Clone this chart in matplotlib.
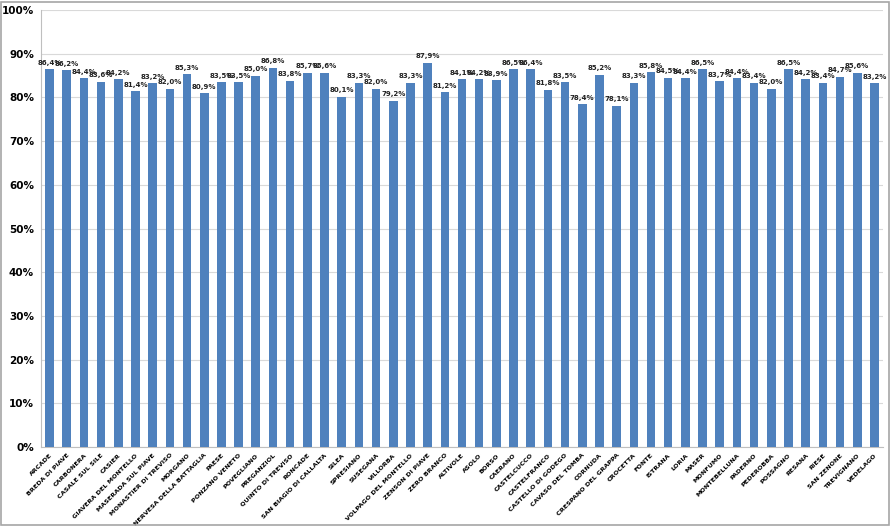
import matplotlib.pyplot as plt
from matplotlib.patches import Rectangle
from matplotlib.ticker import FuncFormatter

plt.rcParams['font.family'] = ['DejaVu Sans']

# ========== data ==========
comuni = ['ARCADE', 'BREDA DI PIAVE', 'CARBONERA', 'CASALE SUL SILE', 'CASIER',
          'GIAVERA DEL MONTELLO', 'MASERADA SUL PIAVE', 'MONASTIER DI TREVISO',
          'MORGANO', 'NERVESA DELLA BATTAGLIA', 'PAESE', 'PONZANO VENETO',
          'POVEGLIANO', 'PREGANZIOL', 'QUINTO DI TREVISO', 'RONCADE',
          'SAN BIAGIO DI CALLALTA', 'SILEA', 'SPRESIANO', 'SUSEGANA', 'VILLORBA',
          'VOLPAGO DEL MONTELLO', 'ZENSON DI PIAVE', 'ZERO BRANCO', 'ALTIVOLE',
          'ASOLO', 'BORSO', 'CAERANO', 'CASTELCUCCO', 'CASTELFRANCO',
          'CASTELLO DI GODEGO', 'CAVASO DEL TOMBA', 'CORNUDA',
          'CRESPANO DEL GRAPPA', 'CROCETTA', 'FONTE', 'ISTRANA', 'LORIA',
          'MASER', 'MONFUMO', 'MONTEBELLUNA', 'PADERNO', 'PEDEROBBA',
          'POSSAGNO', 'RESANA', 'RIESE', 'SAN ZENONE', 'TREVIGNANO', 'VEDELAGO']
percent = [86.4, 86.2, 84.4, 83.6, 84.2, 81.4, 83.2, 82.0, 85.3, 80.9,
           83.5, 83.5, 85.0, 86.8, 83.8, 85.7, 85.6, 80.1, 83.3, 82.0,
           79.2, 83.3, 87.9, 81.2, 84.1, 84.2, 83.9, 86.5, 86.4, 81.8,
           83.5, 78.4, 85.2, 78.1, 83.3, 85.8, 84.5, 84.4, 86.5, 83.7,
           84.4, 83.4, 82.0, 86.5, 84.2, 83.4, 84.7, 85.6, 83.2]

bar_color = '#4F81BD'

# ========== plot ==========
fig = plt.figure(figsize=(8.91, 5.26), dpi=100, facecolor='white')
ax = fig.add_axes([0.046, 0.150, 0.945, 0.831])

x = list(range(len(comuni)))
ax.bar(x, percent, width=0.5, color=bar_color, zorder=3)

# etichette dei valori, con la virgola decimale
for xi, v in zip(x, percent):
    ax.text(xi, v + 0.8, f"{v:.1f}%".replace('.', ','), ha='center', va='bottom',
            fontsize=5, fontweight='bold', color='#222222')

ax.set_xlim(-0.5, len(comuni) - 0.5)
ax.set_ylim(0, 100)
ax.set_yticks(range(0, 101, 10))
ax.yaxis.set_major_formatter(FuncFormatter(lambda v, p: f"{int(v)}%"))
ax.tick_params(axis='y', length=0, labelsize=7.5, pad=5)
for lab in ax.get_yticklabels():
    lab.set_fontweight('bold')

ax.set_xticks(x)
ax.set_xticklabels(comuni, rotation=45, ha='right', rotation_mode='anchor',
                   fontsize=4.6, fontweight='bold')
ax.tick_params(axis='x', length=0, pad=4)

ax.grid(axis='y', color='#d9d9d9', linewidth=0.8, zorder=0)
for s in ['top', 'right']:
    ax.spines[s].set_visible(False)
ax.spines['left'].set_color('#bfbfbf')
ax.spines['bottom'].set_color('#bfbfbf')

# cornice grigia attorno al grafico
fig.patches.append(Rectangle((0.001, 0.001), 0.997, 0.996, transform=fig.transFigure,
                             fill=False, edgecolor='#a6a6a6', linewidth=1.2))

plt.savefig('out.png', dpi=100, facecolor='white')
